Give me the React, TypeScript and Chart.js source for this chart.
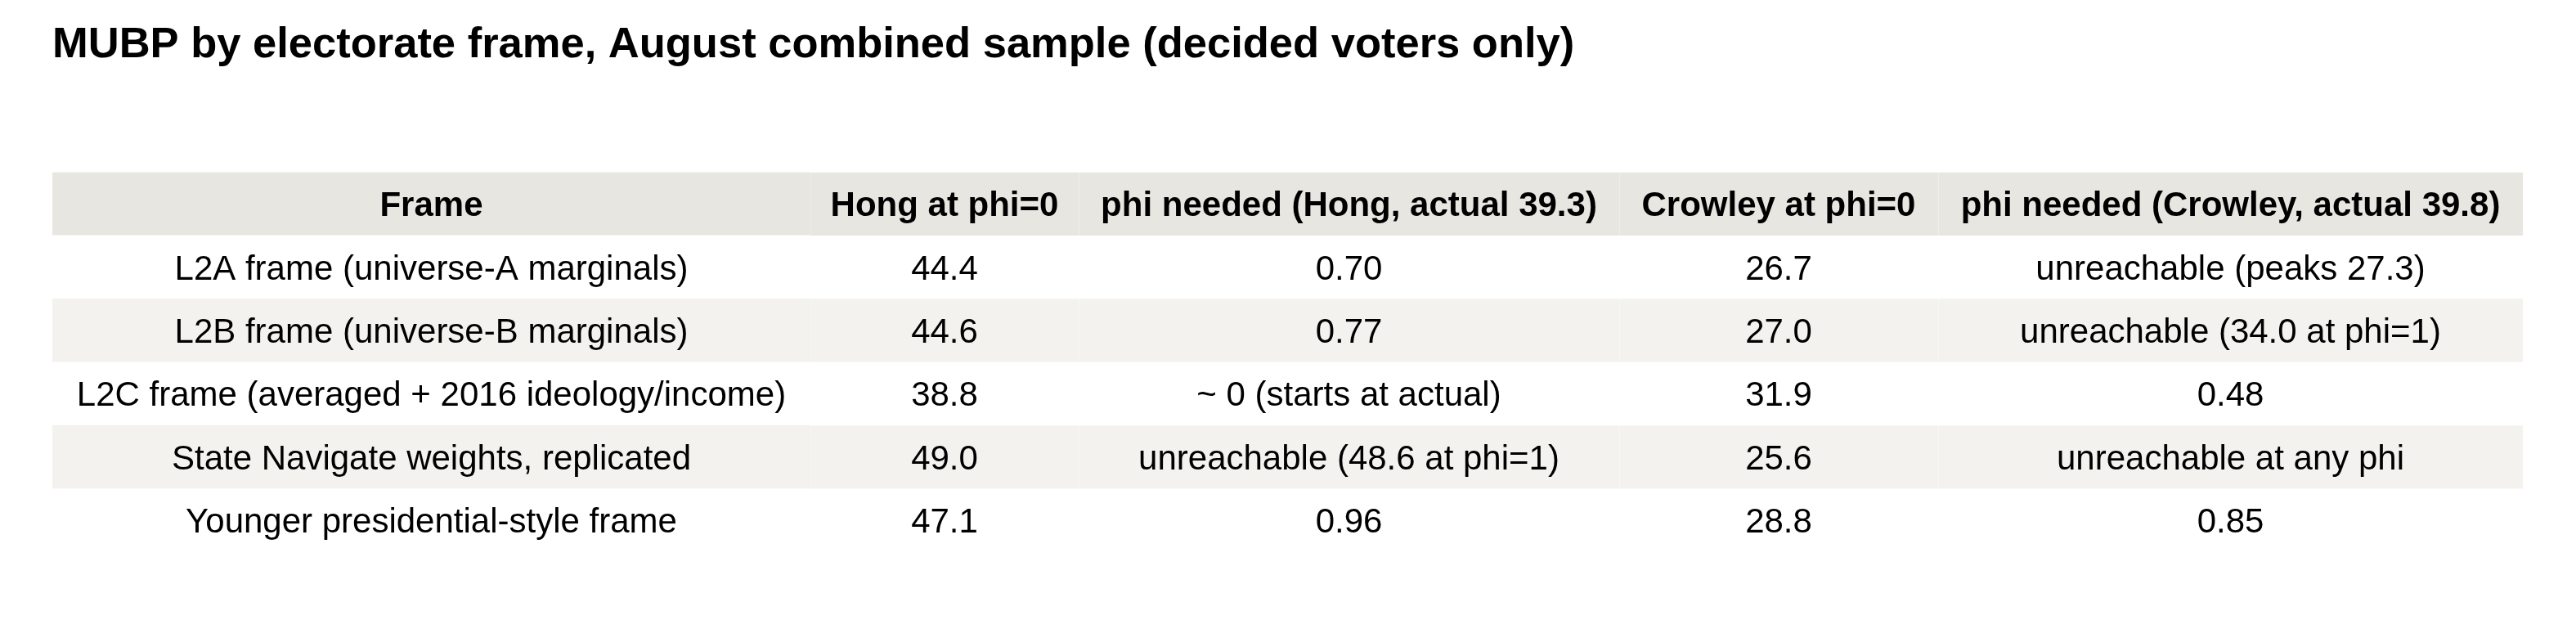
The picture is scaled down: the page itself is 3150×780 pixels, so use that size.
import React, { useEffect, useRef } from "react";
import { Chart, registerables } from "chart.js";

Chart.register(...registerables);

// ---------- data ----------
const TITLE = "MUBP by electorate frame, August combined sample (decided voters only)";

const columnHeaders = [
  "Frame",
  "Hong at phi=0",
  "phi needed (Hong, actual 39.3)",
  "Crowley at phi=0",
  "phi needed (Crowley, actual 39.8)",
];

const frames = [
  "L2A frame (universe-A marginals)",
  "L2B frame (universe-B marginals)",
  "L2C frame (averaged + 2016 ideology/income)",
  "State Navigate weights, replicated",
  "Younger presidential-style frame",
];

const hongAtPhi0 = [44.4, 44.6, 38.8, 49.0, 47.1];

const phiNeededHong = [
  "0.70",
  "0.77",
  "~ 0 (starts at actual)",
  "unreachable (48.6 at phi=1)",
  "0.96",
];

const crowleyAtPhi0 = [26.7, 27.0, 31.9, 25.6, 28.8];

const phiNeededCrowley = [
  "unreachable (peaks 27.3)",
  "unreachable (34.0 at phi=1)",
  "0.48",
  "unreachable at any phi",
  "0.85",
];

// ---------- layout / style ----------
const COLUMN_WIDTHS = [927, 328, 661, 390, 715];
const FONT_FAMILY = '"Liberation Sans", Arial, Helvetica, sans-serif';
const HEADER_BG = "#e8e6e0";
const STRIPE_BG = "#f3f2ee";
const PLAIN_BG = "#ffffff";

export default function App() {
  const canvasRef = useRef<HTMLCanvasElement | null>(null);

  useEffect(() => {
    const canvas = canvasRef.current;
    if (!canvas) return;

    const rowLabels = ["__header__", ...frames];
    const cellText: string[][] = [
      columnHeaders,
      ...frames.map((f, i) => [
        f,
        hongAtPhi0[i].toFixed(1),
        phiNeededHong[i],
        crowleyAtPhi0[i].toFixed(1),
        phiNeededCrowley[i],
      ]),
    ];

    const rowBg = (i: number) =>
      i === 0 ? HEADER_BG : i % 2 === 0 ? STRIPE_BG : PLAIN_BG;
    const sepColor = (i: number) =>
      i === 0 ? "#f4f3ef" : i % 2 === 0 ? "#f9f9f7" : PLAIN_BG;

    const datasets = COLUMN_WIDTHS.map((w, j) => ({
      label: columnHeaders[j],
      data: rowLabels.map(() => w),
      backgroundColor: (ctx: any) => rowBg(ctx.dataIndex),
      borderColor: (ctx: any) => sepColor(ctx.dataIndex),
      borderWidth: j === 0 ? 0 : { left: 1, right: 0, top: 0, bottom: 0 },
      borderSkipped: false as const,
      categoryPercentage: 1,
      barPercentage: 1,
    }));

    const textPlugin = {
      id: "cellText",
      afterDatasetsDraw(chart: any) {
        const ctx = chart.ctx as CanvasRenderingContext2D;
        ctx.save();
        ctx.fillStyle = "#000000";
        ctx.textAlign = "center";
        ctx.textBaseline = "alphabetic";
        chart.data.datasets.forEach((_ds: any, j: number) => {
          const meta = chart.getDatasetMeta(j);
          meta.data.forEach((el: any, i: number) => {
            const { x, y, base } = el.getProps(["x", "y", "base"], true);
            const cx = (x + base) / 2;
            const size = 42;
            ctx.font = `${i === 0 ? "bold " : ""}${size}px ${FONT_FAMILY}`;
            ctx.fillText(cellText[i][j], cx, y + size * 0.358);
          });
        });
        ctx.restore();
      },
    };

    const total = COLUMN_WIDTHS.reduce((a, b) => a + b, 0);

    const chart = new Chart(canvas, {
      type: "bar",
      data: { labels: rowLabels, datasets },
      options: {
        indexAxis: "y",
        animation: false,
        responsive: false,
        devicePixelRatio: 1,
        events: [],
        layout: { padding: { left: 56, right: 57, top: 0, bottom: 97 } },
        scales: {
          x: { type: "linear", min: 0, max: total, stacked: true, display: false },
          y: { type: "category", stacked: true, display: false, offset: true },
        },
        plugins: {
          legend: { display: false },
          tooltip: { enabled: false },
          title: {
            display: true,
            text: TITLE,
            align: "start",
            color: "#000000",
            font: { family: FONT_FAMILY, size: 52.5, weight: "bold", lineHeight: 1.2 },
            padding: { top: 16, bottom: 123.5 },
          },
        },
      },
      plugins: [textPlugin],
    });

    return () => chart.destroy();
  }, []);

  return (
    <div style={{ width: 3134, height: 764 }}>
      <canvas
        ref={canvasRef}
        width={3134}
        height={764}
        style={{ display: "block", width: 3134, height: 764 }}
      />
    </div>
  );
}
